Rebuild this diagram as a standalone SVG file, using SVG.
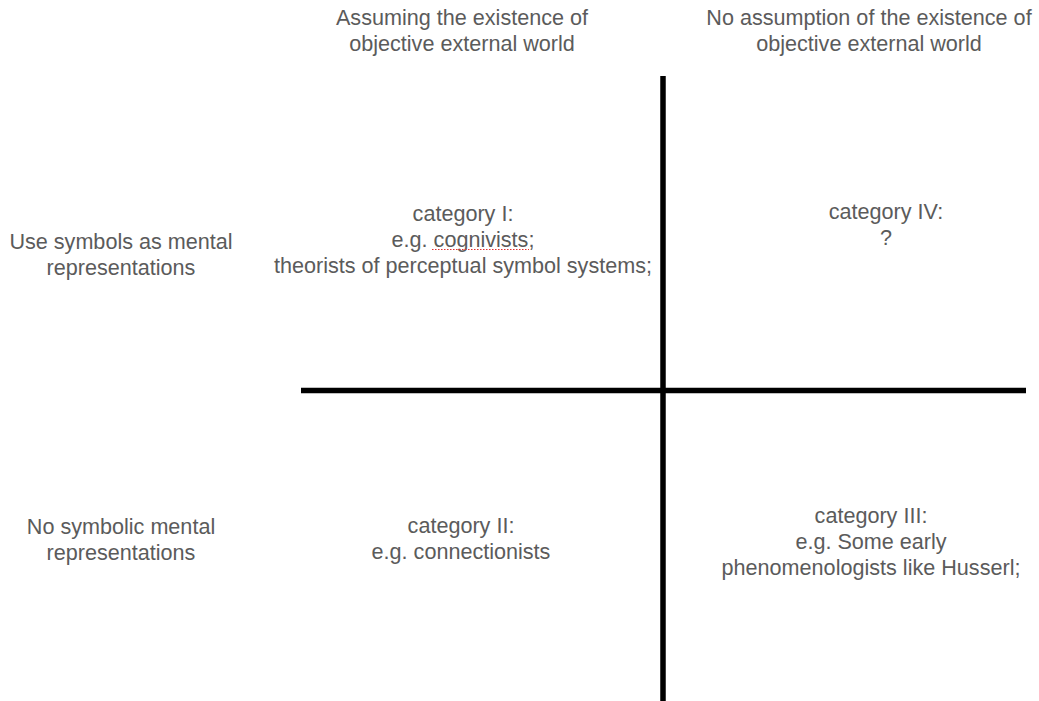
<svg xmlns="http://www.w3.org/2000/svg" width="1039" height="701" viewBox="0 0 1039 701">
<style>
.t{font-family:"Liberation Sans",Arial,Helvetica,sans-serif;font-size:21.6px;fill:#5b5b5b;text-anchor:middle}
.ax{stroke:#000;stroke-width:5.5;fill:none}
</style>
<rect width="1039" height="701" fill="#fff"/>
<g id="connectors">
<line class="ax" x1="663" y1="76" x2="663" y2="701"/>
<line class="ax" x1="301" y1="390.5" x2="1026" y2="390.5"/>
</g>
<g id="header-left"><text class="t" x="462" y="25">Assuming the existence of</text><text class="t" x="462" y="51">objective external world</text></g>
<g id="header-right"><text class="t" x="869" y="25">No assumption of the existence of</text><text class="t" x="869" y="51">objective external world</text></g>
<g id="row-symbols"><text class="t" x="121" y="249">Use symbols as mental</text><text class="t" x="121" y="275">representations</text></g>
<g id="row-nosymbols"><text class="t" x="121" y="534">No symbolic mental</text><text class="t" x="121" y="560">representations</text></g>
<g id="cat1"><text class="t" x="463" y="221">category I:</text><text class="t" x="463" y="247">e.g. cognivists;</text><text class="t" x="463" y="273">theorists of perceptual symbol systems;</text>
<line x1="432" y1="249.5" x2="529" y2="249.5" stroke="#e03030" stroke-width="1.2" stroke-dasharray="1.5,1.5"/></g>
<g id="cat4"><text class="t" x="886" y="219">category IV:</text><text class="t" x="886" y="245">?</text></g>
<g id="cat2"><text class="t" x="461" y="533">category II:</text><text class="t" x="461" y="559">e.g. connectionists</text></g>
<g id="cat3"><text class="t" x="871" y="523">category III:</text><text class="t" x="871" y="549">e.g. Some early</text><text class="t" x="871" y="575">phenomenologists like Husserl;</text></g>
</svg>
